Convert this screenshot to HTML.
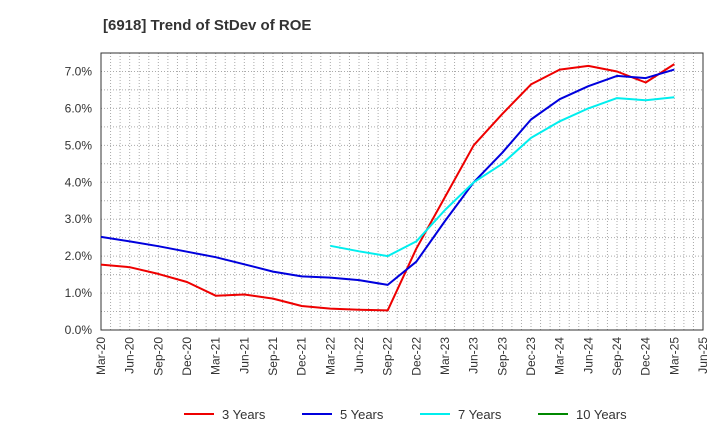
<!DOCTYPE html>
<html><head><meta charset="utf-8"><style>
body{margin:0;background:#fff;font-family:"Liberation Sans",Arial,sans-serif}
</style></head><body>
<svg id="chart" width="720" height="440" xmlns="http://www.w3.org/2000/svg">
<text x="103" y="30" font-size="15" font-weight="bold" fill="#333">[6918]  Trend of StDev of ROE</text>
<g id="grid"></g><g id="axes"></g><g id="series"></g><g id="legend"></g>
</svg>
<script>
const xLabels=["Mar-20","Jun-20","Sep-20","Dec-20","Mar-21","Jun-21","Sep-21","Dec-21","Mar-22","Jun-22","Sep-22","Dec-22","Mar-23","Jun-23","Sep-23","Dec-23","Mar-24","Jun-24","Sep-24","Dec-24","Mar-25","Jun-25"];
const yTicks=[0,1,2,3,4,5,6,7];
const s3=[1.77,1.7,1.52,1.3,0.93,0.96,0.85,0.65,0.58,0.55,0.53,2.2,3.6,5.0,5.85,6.65,7.05,7.15,7.0,6.7,7.2];
const s5=[2.52,2.4,2.27,2.12,1.97,1.78,1.58,1.45,1.42,1.35,1.22,1.85,2.95,4.0,4.8,5.7,6.25,6.6,6.88,6.82,7.05];
const s7=[null,null,null,null,null,null,null,null,2.28,2.13,2.0,2.4,3.25,4.0,4.5,5.2,5.65,6.0,6.28,6.22,6.3];
const s10=[];
const L=101,R=703,T=53,B=330,yMax=7.5;
const X=i=>L+i*(R-L)/(xLabels.length-1);
const Y=v=>B-v*(B-T)/yMax;
const NS="http://www.w3.org/2000/svg";
function mk(t,a,p){const e=document.createElementNS(NS,t);for(const k in a)e.setAttribute(k,a[k]);p.appendChild(e);return e;}
const grid=document.getElementById('grid'),axes=document.getElementById('axes'),ser=document.getElementById('series'),leg=document.getElementById('legend');
for(let i=0;i<xLabels.length*3-2;i++){const x=L+i*(R-L)/((xLabels.length-1)*3);
 const l=mk('line',{x1:x,x2:x,y1:T,y2:B,stroke:'#aaa','stroke-dasharray':'1,2','stroke-width':1},grid);
 }
for(let v=0;v<=yMax;v+=0.5){const l=mk('line',{x1:L,x2:R,y1:Y(v),y2:Y(v),stroke:'#aaa','stroke-dasharray':'1,2'},grid);
 }
const fr=mk('rect',{x:L,y:T,width:R-L,height:B-T,fill:'none',stroke:'#333'},axes);

yTicks.forEach(v=>{const t=mk('text',{x:L-9,y:Y(v)+4,'text-anchor':'end','font-size':12,fill:'#333'},axes);t.textContent=v.toFixed(1)+'%';
 });
xLabels.forEach((s,i)=>{const x=X(i)+4,y=B+7;const t=mk('text',{x:x,y:y,'text-anchor':'end','font-size':12,fill:'#333',transform:`rotate(-90 ${x} ${y})`},axes);t.textContent=s;
 });
function draw(arr,col,name){let d='',pen=false;arr.forEach((v,i)=>{if(v==null){pen=false;return;}d+=(pen?'L':'M')+X(i).toFixed(1)+' '+Y(v).toFixed(1);pen=true;});
 if(!d)return;const p=mk('path',{d:d,fill:'none',stroke:col,'stroke-width':2,'stroke-linejoin':'round'},ser);
 }
draw(s3,'#e00','series-3-years');draw(s5,'#00d','series-5-years');draw(s7,'#0ee','series-7-years');draw(s10,'#080','series-10-years');
[["3 Years","#e00",184],["5 Years","#00d",302],["7 Years","#0ee",420],["10 Years","#080",538]].forEach(([n,c,x])=>{
 const g=mk('g',{},leg);
 mk('line',{x1:x,x2:x+30,y1:414,y2:414,stroke:c,'stroke-width':2},g);
 const t=mk('text',{x:x+38,y:419,'font-size':13,fill:'#333'},g);t.textContent=n;});
</script>
</body></html>
